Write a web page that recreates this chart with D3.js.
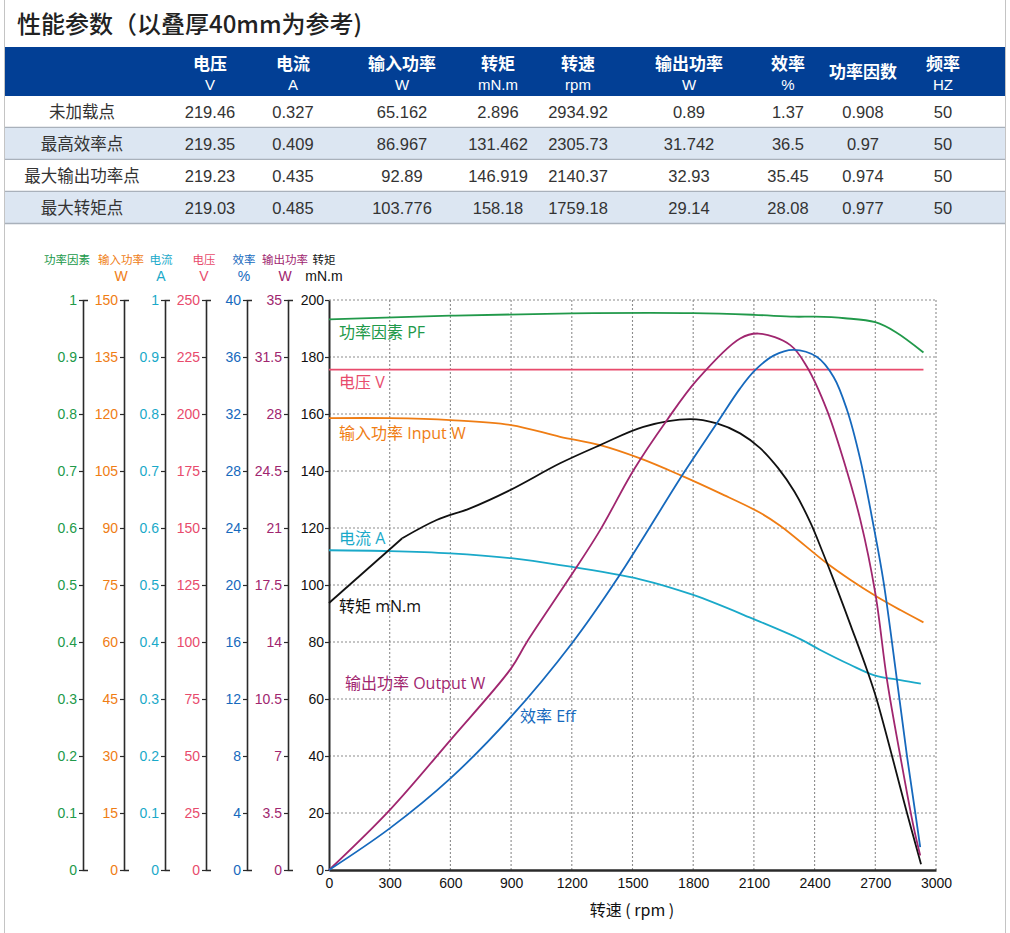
<!DOCTYPE html>
<html>
<head>
<meta charset="utf-8">
<script src="https://cdn.jsdelivr.net/npm/d3@7"></script>
<style>
  body { margin: 0; background: #fff; }
  svg { display: block; }
</style>
</head>
<body>
<div id="chart"></div>
<script>
// ---- table data ----
const title = "性能参数（以叠厚40mm为参考)";
const headNames = ["", "电压", "电流", "输入功率", "转矩", "转速", "输出功率", "效率", "功率因数", "频率"];
const headUnits = ["", "V", "A", "W", "mN.m", "rpm", "W", "%", "", "HZ"];
const rowNames = ["未加载点", "最高效率点", "最大输出功率点", "最大转矩点"];
const rowValues = [
  ["219.46", "0.327", "65.162", "2.896", "2934.92", "0.89", "1.37", "0.908", "50"],
  ["219.35", "0.409", "86.967", "131.462", "2305.73", "31.742", "36.5", "0.97", "50"],
  ["219.23", "0.435", "92.89", "146.919", "2140.37", "32.93", "35.45", "0.974", "50"],
  ["219.03", "0.485", "103.776", "158.18", "1759.18", "29.14", "28.08", "0.977", "50"]
];

// ---- chart axes ----
const axisNames = ["功率因素", "输入功率", "电流", "电压", "效率", "输出功率", "转矩"];
const axisUnits = ["", "W", "A", "V", "%", "W", "mN.m"];
const axisMax = [1, 150, 1, 250, 40, 35, 200];
const axisStep = [0.1, 15, 0.1, 25, 4, 3.5, 20];
const speedTicks = [0, 300, 600, 900, 1200, 1500, 1800, 2100, 2400, 2700, 3000];

// ---- curves (rpm, value) ----
const pfRpm = [0, 600, 1200, 1800, 2100, 2300, 2400, 2550, 2700, 2800, 2938];
const pfVal = [0.966, 0.9725, 0.9766, 0.977, 0.974, 0.9707, 0.9707, 0.968, 0.961, 0.944, 0.908];
const voltRpm = [0, 2938];
const voltVal = [219.5, 219.46];
const inputRpm = [0, 300, 600, 900, 1142, 1340, 1538, 1736, 1934, 2131, 2230, 2461, 2578, 2708, 2824, 2938];
const inputVal = [118.9, 118.9, 118.4, 117.1, 114.0, 111.8, 108.3, 103.9, 99.1, 94.0, 90.6, 80.7, 76.3, 71.9, 68.4, 65.16];
const currRpm = [0, 300, 600, 900, 1142, 1538, 1800, 2100, 2329, 2428, 2576, 2692, 2824, 2925];
const currVal = [0.561, 0.5596, 0.5556, 0.547, 0.535, 0.51, 0.4825, 0.44, 0.405, 0.386, 0.36, 0.342, 0.333, 0.327];
const torqueRpm = [0, 362, 532, 697, 895, 1142, 1340, 1554, 1785, 1917, 2032, 2131, 2220, 2300, 2380, 2440, 2494, 2580, 2659, 2708, 2857, 2926];
const torqueVal = [93.7, 116.4, 122.8, 126.9, 133.3, 142.7, 149.1, 155.5, 158.2, 156.7, 153.2, 148.0, 141.0, 132.8, 121.8, 111.5, 101.8, 85.5, 70.2, 59.6, 19.9, 2.0];
const outRpm = [0, 300, 600, 900, 978, 1192, 1340, 1505, 1670, 1818, 2032, 2123, 2280, 2362, 2461, 2543, 2626, 2700, 2758, 2824, 2889, 2922];
const outVal = [0, 3.68, 7.98, 12.38, 14.0, 18.0, 20.87, 24.55, 27.62, 30.08, 32.64, 32.94, 32.23, 30.9, 28.24, 25.17, 21.5, 17.0, 11.66, 6.96, 2.66, 0.89];
const effRpm = [0, 300, 600, 900, 1200, 1431, 1752, 1917, 2032, 2107, 2197, 2296, 2412, 2494, 2560, 2626, 2692, 2741, 2807, 2857, 2898, 2922];
const effVal = [0, 2.92, 6.43, 10.76, 15.9, 20.58, 27.84, 31.35, 33.8, 35.09, 36.1, 36.5, 36.0, 34.6, 32.3, 28.8, 24.1, 20.2, 13.33, 7.95, 3.98, 1.6];

// ---- layout ----
const W = 1010, H = 933;
const colors = ["#21994a", "#ef7d14", "#1aa9c9", "#e84b6c", "#1669bd", "#a0266f", "#111"];
const axisX = [83, 124, 165, 206, 247, 288, 329];
const headX = [67, 121, 161, 204, 244, 285, 324];
const plot = {left: 329, right: 936, top: 300, bottom: 870};
const cjk = "'Liberation Sans', Arial, 'Noto Sans CJK SC', sans-serif";
const narrow = "'Liberation Sans Narrow', 'Arial Narrow', 'Liberation Sans', 'Noto Sans CJK SC', sans-serif";
const labelFont = "'Open Sans', 'Noto Sans CJK SC', sans-serif";

const svg = d3.select("#chart").append("svg")
    .attr("width", W)
    .attr("height", H);

// page frame
svg.append("line").attr("x1", 4.5).attr("x2", 4.5).attr("y1", 0).attr("y2", H).attr("stroke", "#c4c4c4");
svg.append("line").attr("x1", 1005.5).attr("x2", 1005.5).attr("y1", 0).attr("y2", H).attr("stroke", "#c4c4c4");

// title
svg.append("text")
    .attr("x", 17).attr("y", 22)
    .attr("dominant-baseline", "central")
    .style("font-family", "'Noto Sans CJK SC', sans-serif")
    .style("font-size", "24px")
    .style("font-weight", 500)
    .attr("fill", "#222")
    .text(title);

// ---- table ----
const colX = [82, 210, 293, 402, 498, 578, 689, 788, 863, 943];
svg.append("rect").attr("x", 5).attr("y", 47).attr("width", 1000).attr("height", 49).attr("fill", "#023f95");

const head = svg.append("g").attr("fill", "#fff").style("font-family", cjk).attr("text-anchor", "middle");
headNames.forEach((n, i) => {
  if (!n) return;
  const two = headUnits[i] !== "";
  head.append("text").attr("x", colX[i]).attr("y", two ? 64 : 72)
      .attr("dominant-baseline", "central")
      .style("font-size", "17px").style("font-weight", "bold").text(n);
  if (two) head.append("text").attr("x", colX[i]).attr("y", 84)
      .attr("dominant-baseline", "central")
      .style("font-size", "15px").text(headUnits[i]);
});

rowNames.forEach((r, j) => {
  const top = 96 + 32 * j;
  svg.append("rect").attr("x", 5).attr("y", top).attr("width", 1000).attr("height", 31)
      .attr("fill", j % 2 ? "#dce6f2" : "#fff");
  svg.append("line").attr("x1", 5).attr("x2", 1005).attr("y1", top + 31.5).attr("y2", top + 31.5)
      .attr("stroke", "#a9b1bb").attr("stroke-width", 1.5);
  const cells = [r].concat(rowValues[j]);
  svg.append("g").selectAll("text").data(cells).join("text")
      .attr("x", (d, i) => colX[i])
      .attr("y", top + 15.5)
      .attr("text-anchor", "middle")
      .attr("dominant-baseline", "central")
      .style("font-family", cjk)
      .style("font-size", "16.5px")
      .attr("fill", "#333")
      .text(d => d);
});

// ---- chart ----
const x = d3.scaleLinear().domain([0, 3000]).range([plot.left, plot.right]);
const yScales = axisMax.map(m => d3.scaleLinear().domain([0, m]).range([plot.bottom, plot.top]));
const yT = yScales[6];

// grid
const grid = svg.append("g").attr("stroke", "#8c8c8c").attr("stroke-dasharray", "2,2").attr("stroke-width", 1.1);
grid.selectAll(".gx").data(speedTicks.slice(1)).join("line")
    .attr("x1", d => x(d)).attr("x2", d => x(d))
    .attr("y1", plot.top).attr("y2", plot.bottom);
grid.selectAll(".gy").data(d3.range(1, 11).map(i => i * 20)).join("line")
    .attr("x1", plot.left).attr("x2", plot.right)
    .attr("y1", d => yT(d)).attr("y2", d => yT(d));

// left axes
axisNames.forEach((name, i) => {
  const ticks = d3.range(11).map(k => +(k * axisStep[i]).toFixed(2));
  const main = i === 6;
  const g = svg.append("g")
      .attr("transform", `translate(${axisX[i]},0)`)
      .call(d3.axisLeft(yScales[i])
        .tickValues(ticks)
        .tickFormat(d => String(d))
        .tickSizeInner(4)
        .tickSizeOuter(main ? 0 : -5)
        .tickPadding(main ? 1 : 2));
  g.select(".domain").attr("stroke", "#2a2a2a").attr("stroke-width", main ? 2 : 1.6);
  g.selectAll(".tick line").attr("stroke", "#2a2a2a").attr("stroke-width", 1.2);
  g.selectAll(".tick text")
      .attr("fill", main ? "#111" : colors[i])
      .style("font-family", narrow)
      .style("font-size", "14px");

  svg.append("text").attr("x", headX[i]).attr("y", 264)
      .attr("text-anchor", "middle")
      .attr("fill", colors[i])
      .style("font-family", "'Noto Sans CJK SC', sans-serif")
      .style("font-size", "11.5px")
      .text(name);
  svg.append("text").attr("x", headX[i]).attr("y", 281)
      .attr("text-anchor", "middle")
      .attr("fill", colors[i])
      .style("font-family", narrow)
      .style("font-size", "14px")
      .text(axisUnits[i]);
});

// x axis
const gx = svg.append("g")
    .attr("transform", `translate(0,${plot.bottom})`)
    .call(d3.axisBottom(x).tickValues(speedTicks).tickSize(0).tickPadding(8).tickFormat(d => String(d)));
gx.select(".domain").attr("stroke", "#2a2a2a").attr("stroke-width", 2.5);
gx.selectAll(".tick text").attr("fill", "#111").style("font-family", narrow).style("font-size", "14px");

svg.append("text")
    .attr("x", 632).attr("y", 916)
    .attr("text-anchor", "middle")
    .attr("fill", "#111")
    .style("font-family", "'Noto Sans CJK SC', sans-serif")
    .style("font-size", "16px")
    .text("转速 ( rpm )");

// curves
const series = [
  {rpm: pfRpm, val: pfVal, axis: 0},
  {rpm: voltRpm, val: voltVal, axis: 3},
  {rpm: inputRpm, val: inputVal, axis: 1},
  {rpm: currRpm, val: currVal, axis: 2},
  {rpm: torqueRpm, val: torqueVal, axis: 6, kink: 1},
  {rpm: outRpm, val: outVal, axis: 5},
  {rpm: effRpm, val: effVal, axis: 4}
];

series.forEach(s => {
  const y = yScales[s.axis];
  const pts = d3.zip(s.rpm, s.val);
  const smooth = d3.line().x(d => x(d[0])).y(d => y(d[1])).curve(d3.curveCatmullRom.alpha(0.5));
  const straight = d3.line().x(d => x(d[0])).y(d => y(d[1]));
  const parts = s.kink ? [[pts.slice(0, s.kink + 1), straight], [pts.slice(s.kink), smooth]] : [[pts, smooth]];
  parts.forEach(([p, gen]) => {
    svg.append("path")
        .datum(p)
        .attr("fill", "none")
        .attr("stroke", colors[s.axis])
        .attr("stroke-width", 1.8)
        .attr("stroke-linejoin", "round")
        .attr("d", gen);
  });
});

// curve labels
const curveLabels = [
  {text: "功率因素 PF", axis: 0, x: 339, y: 338},
  {text: "电压 V", axis: 3, x: 339, y: 388},
  {text: "输入功率 Input W", axis: 1, x: 339, y: 439},
  {text: "电流 A", axis: 2, x: 339, y: 544},
  {text: "转矩 mN.m", axis: 6, x: 339, y: 612},
  {text: "输出功率 Output W", axis: 5, x: 345, y: 689},
  {text: "效率 Eff", axis: 4, x: 520, y: 722}
];
svg.append("g").selectAll("text").data(curveLabels).join("text")
    .attr("x", d => d.x)
    .attr("y", d => d.y)
    .attr("fill", d => colors[d.axis])
    .style("font-family", labelFont)
    .style("font-size", "16px")
    .text(d => d.text);
</script>
</body>
</html>
